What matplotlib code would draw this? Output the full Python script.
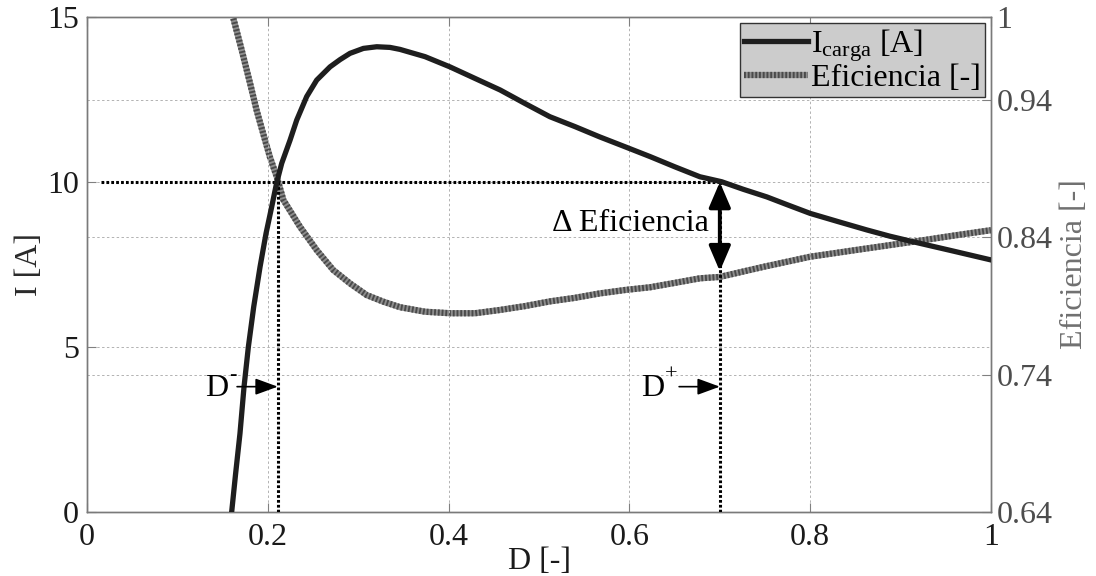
import numpy as np
import matplotlib
matplotlib.use('Agg')
from matplotlib import pyplot as plt
from matplotlib.lines import Line2D

plt.rcParams['font.family'] = ['Liberation Serif', 'DejaVu Serif']
plt.rcParams['mathtext.fontset'] = 'custom'
plt.rcParams['mathtext.rm'] = 'Liberation Serif'
plt.rcParams['mathtext.it'] = 'Liberation Serif'
plt.rcParams['font.size'] = 23

# load current I_carga [A] vs duty cycle D
d_i = [0.1600, 0.1644, 0.1692, 0.1737, 0.1785, 0.1844, 0.1914, 0.1980, 0.2043,
       0.2098, 0.2154, 0.2246, 0.2320, 0.2430, 0.2541, 0.2688, 0.2799, 0.2909,
       0.3057, 0.3205, 0.3352, 0.3462, 0.3739, 0.4015, 0.4292, 0.4570, 0.4845,
       0.5120, 0.5398, 0.5670, 0.5951, 0.6230, 0.6504, 0.6780, 0.7020, 0.7260,
       0.7520, 0.7758, 0.8000, 0.8310, 0.8625, 0.8880, 0.9140, 0.9580, 1.0000]
i_carga = [0.00, 1.17, 2.38, 3.80, 5.01, 6.22, 7.43, 8.44, 9.25,
           9.98, 10.57, 11.27, 11.88, 12.59, 13.09, 13.49, 13.71, 13.90,
           14.05, 14.10, 14.08, 14.02, 13.80, 13.49, 13.14, 12.79, 12.38,
           11.98, 11.68, 11.37, 11.07, 10.77, 10.46, 10.16, 10.01, 9.78,
           9.55, 9.30, 9.05, 8.80, 8.55, 8.36, 8.19, 7.91, 7.64]

# efficiency [-] vs D
d_e = [0.1619, 0.1711, 0.1803, 0.1877, 0.1950, 0.2024, 0.2098, 0.2172, 0.2356,
       0.2541, 0.2724, 0.2909, 0.3094, 0.3278, 0.3462, 0.3739, 0.4015, 0.4292,
       0.4570, 0.4845, 0.5120, 0.5398, 0.5670, 0.5951, 0.6230, 0.6504, 0.6780,
       0.7000, 0.7480, 0.8000, 0.8550, 0.9140, 0.9580, 1.0000]
efic = [0.999, 0.976, 0.952, 0.932, 0.915, 0.898, 0.884, 0.867, 0.8475,
        0.8305, 0.816, 0.8063, 0.7978, 0.793, 0.789, 0.7857, 0.7846, 0.7846,
        0.787, 0.7898, 0.7932, 0.7958, 0.799, 0.8015, 0.8035, 0.8067, 0.810,
        0.811, 0.8183, 0.8257, 0.831, 0.8366, 0.841, 0.845]

i_ref = 10.0
d_minus = 0.211
d_plus = 0.700
i_gap = 7.3
y_mark = 3.8

x_ticks = [0, 0.2, 0.4, 0.6, 0.8, 1]
x_labels = ['0', '0.2', '0.4', '0.6', '0.8', '1']
i_ticks = [0, 5, 10, 15]
e_ticks = [0.64, 0.74, 0.84, 0.94, 1.0]
e_labels = ['0.64', '0.74', '0.84', '0.94', '1']

bg = '#cccccc'
grid_kw = dict(color='#b2b2b2', linestyle=(0, (2.5, 2.5)), linewidth=0.7)

fig = plt.figure(figsize=(10.96, 5.76), dpi=100)
ax = fig.add_axes([0.0794, 0.111, 0.8248, 0.8594])
ax2 = ax.twinx()
ax.set_zorder(ax2.get_zorder() + 1)
ax.patch.set_visible(False)
ax2.set_facecolor(bg)

# efficiency: gray striped line
ax2.plot(d_e, efic, color='#8e8e8e', linewidth=4.5, solid_capstyle='butt',
         solid_joinstyle='round', zorder=3)
ax2.plot(d_e, efic, color='#4a4a4a', linewidth=4.5, dashes=(0.3, 0.3),
         dash_capstyle='butt', zorder=4)
ax2.set_ylim(0.64, 1.0)
ax2.set_yticks(e_ticks)
ax2.set_yticklabels(e_labels)
ax2.yaxis.grid(True, **grid_kw)
ax2.tick_params(axis='y', direction='in', length=6.5, colors='#808080',
                labelcolor='#4d4d4d', pad=4)
ax2.set_ylabel('Eficiencia [-]', color='#707070', labelpad=5)

# current curve
ax.plot(d_i, i_carga, color='#1e1e1e', linewidth=3.8, solid_joinstyle='round', zorder=5)

# reference dotted lines
dot = dict(color='black', linewidth=2.2, linestyle=(0, (0.9, 0.7)),
           dash_capstyle='butt', zorder=4)
ax.plot([0.015, d_plus], [i_ref, i_ref], **dot)
ax.plot([d_minus, d_minus], [0, i_ref], **dot)
ax.plot([d_plus, d_plus], [0, i_ref], **dot)

# D- / D+ markers
arr = dict(arrowstyle='-|>,head_length=0.6,head_width=0.22', color='black',
           linewidth=1.2, shrinkA=0, shrinkB=0)
for d0, sign, dx in [(d_minus, '-', -6.5), (d_plus, '+', -10.5)]:
    x0 = d0 - 0.045
    ax.annotate('', xy=(d0, y_mark), xytext=(x0, y_mark), arrowprops=arr, zorder=6)
    ax.annotate('D', xy=(x0, y_mark), xytext=(dx, -1),
                textcoords='offset points', ha='right', va='center')
    ax.annotate(sign, xy=(x0, y_mark), xytext=(dx + 0.5, 8),
                textcoords='offset points', ha='left', va='center', fontsize=16)

ax.annotate('', xy=(d_plus, i_gap), xytext=(d_plus, i_ref),
            arrowprops=dict(arrowstyle='<|-|>,head_length=0.7,head_width=0.3',
                            color='black', linewidth=2.8, shrinkA=0, shrinkB=0,
                            mutation_scale=22), zorder=6)
ax.text(0.688, 8.75, '\u0394 Eficiencia', ha='right', va='center')

ax.set_xlim(0, 1)
ax.set_ylim(0, 15)
ax.set_xticks(x_ticks)
ax.set_xticklabels(x_labels)
ax.set_yticks(i_ticks)
ax.grid(True, **grid_kw)
ax.tick_params(direction='in', length=6.5, top=True, colors='#808080',
               labelcolor='#1a1a1a')
ax.tick_params(axis='x', pad=8)
ax.tick_params(axis='y', pad=6)
ax.set_xlabel('D [-]', labelpad=-4, color='#1a1a1a')
ax.set_ylabel('I [A]', color='#2a2a2a', labelpad=2)

for a in (ax, ax2):
    for s in a.spines.values():
        s.set_color('#7a7a7a')
        s.set_linewidth(1.0)

h1 = Line2D([], [], color='#1e1e1e', linewidth=3.8)
h2a = Line2D([], [], color='#8e8e8e', linewidth=4.5, solid_capstyle='butt')
h2b = Line2D([], [], color='#4a4a4a', linewidth=4.5, dashes=(0.3, 0.3), dash_capstyle='butt')
leg = ax.legend([h1, (h2a, h2b)], ['I$_{\\mathrm{carga}}$ [A]', 'Eficiencia [-]'],
                loc='upper right', handlelength=2.0, handletextpad=0.1,
                borderpad=0.12, labelspacing=0.0, borderaxespad=0.2,
                fancybox=False, framealpha=1, facecolor=bg, edgecolor='#333333',
                fontsize=23)
leg.get_frame().set_linewidth(1.0)
leg.set_zorder(10)

fig.savefig('out.png', dpi=100)
